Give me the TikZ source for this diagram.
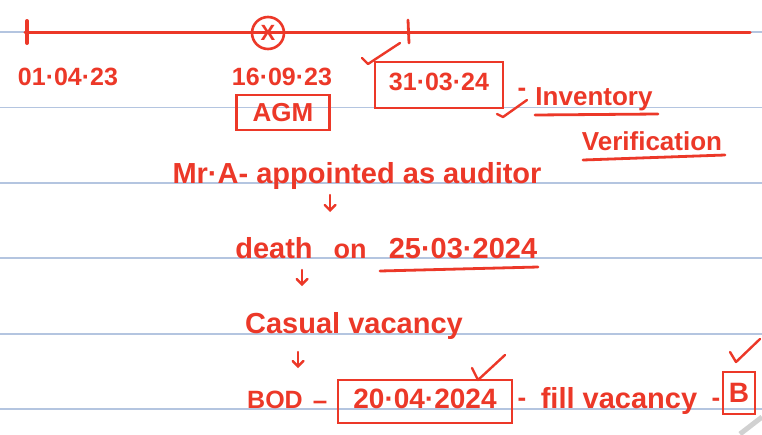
\documentclass[tikz,border=0pt]{standalone}
\usepackage{fontspec}
\setmainfont{Liberation Sans}
\usetikzlibrary{arrows}
\usetikzlibrary{calc}
\definecolor{ink}{RGB}{236,56,40}
\definecolor{rule}{RGB}{180,197,224}

\begin{document}
\begin{tikzpicture}[x=1pt,y=-1pt,
    sz/.style={font=\fontsize{#1}{#1}\selectfont\bfseries},
    txt/.style={ink, anchor=base, inner sep=0pt, sz=#1},
    pen/.style={ink, line width=2.8pt, line cap=round, line join=round},
    box/.style={draw=ink, ink, line width=2.8pt, inner sep=0pt},
    chk/.style={pen, line width=2.4pt},
    dn/.style={pen, line width=2.4pt, -angle 90}]
\useasboundingbox (0,0) rectangle (762,434);
    % ruled page
\fill[white] (0,0) rectangle (762,434);
\foreach \y in {32,107.5,183,258,334,409}
    \draw[rule, line width=1.2pt] (0,\y) -- (762,\y);

\draw[pen, line width=3pt] (25,32) -- (750,32);
\draw[pen, line width=4pt] (27,21) -- (27,43);
\draw[pen] (408,20) -- (409,43);
\node[circle, draw=ink, ink, line width=2.6pt, minimum size=32pt, inner sep=0pt, sz=22] (1) at (268,33) {X};



\node[txt=25] (0) at (68,85) {01·04·23};
\node[txt=25] (2) at (282,85) {16·09·23};
\node[box, minimum width=93pt, minimum height=35pt, sz=26] (3) at (283,112.5) {AGM};

\node[box, minimum width=128pt, minimum height=46pt, text depth=7pt, sz=25] (4) at (439,85) {31·03·24};
\draw[chk] (362,58) -- (368,64) -- (400,43);
\draw[chk] (497,114) -- (503,117) -- (527,100);

\node[txt=26] (5) at (522,96) {-};
\node[txt=26] (6) at (594,105) {Inventory};
\node[txt=26] (7) at (652,150) {Verification};
\draw[pen] (535,115) -- (658,114);
\draw[pen] (583,160) -- (725,155);



\node[txt=29] (8) at (357,183) {Mr·A- appointed as auditor};
\coordinate (9) at (330,195);
\coordinate (10) at (330,212);
\draw[dn] (9) -- (10);

\node[txt=29] (11) at (274,258) {death};
\node[txt=27] (12) at (350,258) {on};
\node[txt=29] (13) at (463,258) {25·03·2024};
\draw[pen] (380,271) -- (538,267);
\coordinate (14) at (302,270);
\coordinate (15) at (302,286);
\draw[dn] (14) -- (15);

\node[txt=29] (16) at (354,333) {Casual vacancy};
\coordinate (17) at (298,352);
\coordinate (18) at (298,368);
\draw[dn] (17) -- (18);



\node[txt=25] (19) at (275,408) {BOD};
\node[txt=26] (20) at (320,409) {–};
\node[box, minimum width=174pt, minimum height=43pt, text depth=6pt, sz=28] (21) at (425,401.5) {20·04·2024};
\node[txt=26] (22) at (522,406) {-};
\node[txt=29] (23) at (619,408) {fill vacancy};
\node[txt=26] (24) at (716,406) {-};
\node[box, minimum width=32pt, minimum height=42pt, sz=28] (25) at (739,393) {B};
\draw[chk] (472,368) -- (478,380) -- (505,355);
\draw[chk] (730,352) -- (736,362) -- (760,339);

\draw[black!18, line width=5pt] (740,434) -- (762,417);

\end{tikzpicture}
\end{document}
